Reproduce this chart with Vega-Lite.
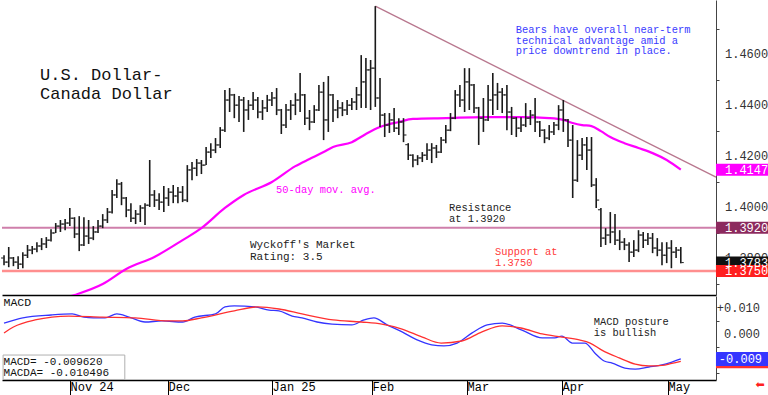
{
"$schema": "https://vega.github.io/schema/vega-lite/v6.json",
"autosize": {"type": "pad"},
"padding": 0,
"background": "white",
"spacing": 1,
"resolve": {"scale": {"x": "independent", "y": "independent", "color": "independent"}},
"config": {"view": {"stroke": null}, "text": {"font": "Liberation Mono"}, "tick": {"opacity": 1}, "axis": {"labelFont": "Liberation Mono", "grid": false, "title": null}},
"datasets": {
"bars": [
{"i":0,"o":1.3801,"h":1.3812,"l":1.3773,"c":1.3785},
{"i":1,"o":1.3785,"h":1.3844,"l":1.3765,"c":1.3801},
{"i":2,"o":1.3801,"h":1.3805,"l":1.3769,"c":1.3785},
{"i":3,"o":1.3785,"h":1.3808,"l":1.3758,"c":1.3777},
{"i":4,"o":1.3777,"h":1.3824,"l":1.3761,"c":1.3812},
{"i":5,"o":1.3812,"h":1.3852,"l":1.3801,"c":1.3832},
{"i":6,"o":1.3832,"h":1.3848,"l":1.3816,"c":1.3836},
{"i":7,"o":1.3836,"h":1.3863,"l":1.3824,"c":1.3848},
{"i":8,"o":1.3848,"h":1.3879,"l":1.3832,"c":1.3856},
{"i":9,"o":1.3856,"h":1.3883,"l":1.3840,"c":1.3871},
{"i":10,"o":1.3871,"h":1.3914,"l":1.3866,"c":1.3899},
{"i":11,"o":1.3899,"h":1.3938,"l":1.3899,"c":1.3926},
{"i":12,"o":1.3926,"h":1.3950,"l":1.3903,"c":1.3934},
{"i":13,"o":1.3934,"h":1.3954,"l":1.3910,"c":1.3938},
{"i":14,"o":1.3938,"h":1.3997,"l":1.3926,"c":1.3957},
{"i":15,"o":1.3957,"h":1.3961,"l":1.3879,"c":1.3895},
{"i":16,"o":1.3895,"h":1.3965,"l":1.3828,"c":1.3852},
{"i":17,"o":1.3852,"h":1.3961,"l":1.3848,"c":1.3887},
{"i":18,"o":1.3887,"h":1.3950,"l":1.3856,"c":1.3879},
{"i":19,"o":1.3879,"h":1.3926,"l":1.3871,"c":1.3903},
{"i":20,"o":1.3903,"h":1.3950,"l":1.3899,"c":1.3926},
{"i":21,"o":1.3926,"h":1.3973,"l":1.3918,"c":1.3950},
{"i":22,"o":1.3950,"h":1.3997,"l":1.3938,"c":1.3981},
{"i":23,"o":1.3981,"h":1.4067,"l":1.3975,"c":1.4048},
{"i":24,"o":1.4048,"h":1.4110,"l":1.4036,"c":1.4091},
{"i":25,"o":1.4091,"h":1.4099,"l":1.4008,"c":1.4036},
{"i":26,"o":1.4036,"h":1.4040,"l":1.3961,"c":1.3989},
{"i":27,"o":1.3989,"h":1.4016,"l":1.3942,"c":1.3957},
{"i":28,"o":1.3957,"h":1.3989,"l":1.3934,"c":1.3973},
{"i":29,"o":1.3973,"h":1.4008,"l":1.3942,"c":1.3997},
{"i":30,"o":1.3997,"h":1.4016,"l":1.3930,"c":1.4008},
{"i":31,"o":1.4008,"h":1.4185,"l":1.4001,"c":1.4048},
{"i":32,"o":1.4048,"h":1.4067,"l":1.4001,"c":1.4028},
{"i":33,"o":1.4028,"h":1.4055,"l":1.3989,"c":1.4020},
{"i":34,"o":1.4020,"h":1.4083,"l":1.3981,"c":1.4036},
{"i":35,"o":1.4036,"h":1.4075,"l":1.4005,"c":1.4059},
{"i":36,"o":1.4059,"h":1.4087,"l":1.4016,"c":1.4044},
{"i":37,"o":1.4044,"h":1.4079,"l":1.4016,"c":1.4059},
{"i":38,"o":1.4059,"h":1.4083,"l":1.4020,"c":1.4028},
{"i":39,"o":1.4028,"h":1.4165,"l":1.4020,"c":1.4146},
{"i":40,"o":1.4146,"h":1.4177,"l":1.4106,"c":1.4153},
{"i":41,"o":1.4153,"h":1.4189,"l":1.4122,"c":1.4173},
{"i":42,"o":1.4173,"h":1.4185,"l":1.4130,"c":1.4165},
{"i":43,"o":1.4165,"h":1.4236,"l":1.4165,"c":1.4216},
{"i":44,"o":1.4216,"h":1.4251,"l":1.4193,"c":1.4224},
{"i":45,"o":1.4224,"h":1.4271,"l":1.4212,"c":1.4244},
{"i":46,"o":1.4244,"h":1.4314,"l":1.4232,"c":1.4302},
{"i":47,"o":1.4302,"h":1.4459,"l":1.4295,"c":1.4420},
{"i":48,"o":1.4420,"h":1.4467,"l":1.4373,"c":1.4440},
{"i":49,"o":1.4440,"h":1.4444,"l":1.4349,"c":1.4400},
{"i":50,"o":1.4400,"h":1.4436,"l":1.4334,"c":1.4420},
{"i":51,"o":1.4420,"h":1.4432,"l":1.4295,"c":1.4381},
{"i":52,"o":1.4381,"h":1.4420,"l":1.4342,"c":1.4400},
{"i":53,"o":1.4400,"h":1.4451,"l":1.4381,"c":1.4420},
{"i":54,"o":1.4420,"h":1.4432,"l":1.4349,"c":1.4373},
{"i":55,"o":1.4373,"h":1.4420,"l":1.4342,"c":1.4389},
{"i":56,"o":1.4389,"h":1.4440,"l":1.4373,"c":1.4420},
{"i":57,"o":1.4420,"h":1.4451,"l":1.4397,"c":1.4428},
{"i":58,"o":1.4428,"h":1.4467,"l":1.4361,"c":1.4381},
{"i":59,"o":1.4381,"h":1.4385,"l":1.4287,"c":1.4322},
{"i":60,"o":1.4322,"h":1.4404,"l":1.4310,"c":1.4381},
{"i":61,"o":1.4381,"h":1.4420,"l":1.4342,"c":1.4400},
{"i":62,"o":1.4400,"h":1.4447,"l":1.4361,"c":1.4420},
{"i":63,"o":1.4420,"h":1.4526,"l":1.4373,"c":1.4440},
{"i":64,"o":1.4440,"h":1.4444,"l":1.4322,"c":1.4349},
{"i":65,"o":1.4349,"h":1.4381,"l":1.4302,"c":1.4334},
{"i":66,"o":1.4334,"h":1.4400,"l":1.4330,"c":1.4381},
{"i":67,"o":1.4381,"h":1.4479,"l":1.4377,"c":1.4451},
{"i":68,"o":1.4451,"h":1.4491,"l":1.4263,"c":1.4342},
{"i":69,"o":1.4342,"h":1.4514,"l":1.4295,"c":1.4440},
{"i":70,"o":1.4440,"h":1.4444,"l":1.4334,"c":1.4381},
{"i":71,"o":1.4381,"h":1.4420,"l":1.4349,"c":1.4389},
{"i":72,"o":1.4389,"h":1.4412,"l":1.4357,"c":1.4381},
{"i":73,"o":1.4381,"h":1.4420,"l":1.4361,"c":1.4400},
{"i":74,"o":1.4400,"h":1.4428,"l":1.4381,"c":1.4412},
{"i":75,"o":1.4412,"h":1.4471,"l":1.4381,"c":1.4440},
{"i":76,"o":1.4440,"h":1.4596,"l":1.4389,"c":1.4491},
{"i":77,"o":1.4491,"h":1.4585,"l":1.4389,"c":1.4538},
{"i":78,"o":1.4538,"h":1.4577,"l":1.4381,"c":1.4545},
{"i":79,"o":1.4545,"h":1.4788,"l":1.4393,"c":1.4428},
{"i":80,"o":1.4428,"h":1.4506,"l":1.4314,"c":1.4361},
{"i":81,"o":1.4361,"h":1.4369,"l":1.4275,"c":1.4322},
{"i":82,"o":1.4322,"h":1.4369,"l":1.4291,"c":1.4342},
{"i":83,"o":1.4342,"h":1.4389,"l":1.4295,"c":1.4310},
{"i":84,"o":1.4310,"h":1.4349,"l":1.4283,"c":1.4334},
{"i":85,"o":1.4334,"h":1.4349,"l":1.4255,"c":1.4283},
{"i":86,"o":1.4245,"h":1.4251,"l":1.4185,"c":1.4204},
{"i":87,"o":1.4204,"h":1.4208,"l":1.4157,"c":1.4185},
{"i":88,"o":1.4185,"h":1.4204,"l":1.4165,"c":1.4193},
{"i":89,"o":1.4193,"h":1.4216,"l":1.4177,"c":1.4204},
{"i":90,"o":1.4204,"h":1.4251,"l":1.4185,"c":1.4224},
{"i":91,"o":1.4224,"h":1.4251,"l":1.4173,"c":1.4232},
{"i":92,"o":1.4232,"h":1.4244,"l":1.4193,"c":1.4216},
{"i":93,"o":1.4216,"h":1.4275,"l":1.4212,"c":1.4263},
{"i":94,"o":1.4263,"h":1.4322,"l":1.4251,"c":1.4302},
{"i":95,"o":1.4302,"h":1.4369,"l":1.4298,"c":1.4349},
{"i":96,"o":1.4349,"h":1.4459,"l":1.4345,"c":1.4440},
{"i":97,"o":1.4440,"h":1.4479,"l":1.4393,"c":1.4420},
{"i":98,"o":1.4420,"h":1.4545,"l":1.4373,"c":1.4491},
{"i":99,"o":1.4491,"h":1.4545,"l":1.4381,"c":1.4479},
{"i":100,"o":1.4479,"h":1.4483,"l":1.4369,"c":1.4389},
{"i":101,"o":1.4389,"h":1.4393,"l":1.4244,"c":1.4349},
{"i":102,"o":1.4349,"h":1.4428,"l":1.4295,"c":1.4342},
{"i":103,"o":1.4342,"h":1.4479,"l":1.4338,"c":1.4420},
{"i":104,"o":1.4420,"h":1.4526,"l":1.4361,"c":1.4440},
{"i":105,"o":1.4440,"h":1.4487,"l":1.4381,"c":1.4451},
{"i":106,"o":1.4451,"h":1.4467,"l":1.4369,"c":1.4440},
{"i":107,"o":1.4440,"h":1.4479,"l":1.4302,"c":1.4373},
{"i":108,"o":1.4373,"h":1.4393,"l":1.4283,"c":1.4349},
{"i":109,"o":1.4349,"h":1.4353,"l":1.4275,"c":1.4310},
{"i":110,"o":1.4310,"h":1.4353,"l":1.4295,"c":1.4322},
{"i":111,"o":1.4322,"h":1.4408,"l":1.4314,"c":1.4349},
{"i":112,"o":1.4349,"h":1.4381,"l":1.4322,"c":1.4361},
{"i":113,"o":1.4361,"h":1.4428,"l":1.4295,"c":1.4334},
{"i":114,"o":1.4334,"h":1.4338,"l":1.4275,"c":1.4302},
{"i":115,"o":1.4302,"h":1.4306,"l":1.4251,"c":1.4271},
{"i":116,"o":1.4271,"h":1.4322,"l":1.4263,"c":1.4295},
{"i":117,"o":1.4295,"h":1.4334,"l":1.4283,"c":1.4322},
{"i":118,"o":1.4322,"h":1.4400,"l":1.4302,"c":1.4381},
{"i":119,"o":1.4381,"h":1.4420,"l":1.4295,"c":1.4342},
{"i":120,"o":1.4342,"h":1.4346,"l":1.4236,"c":1.4263},
{"i":121,"o":1.4263,"h":1.4322,"l":1.4036,"c":1.4106},
{"i":122,"o":1.4106,"h":1.4263,"l":1.4099,"c":1.4204},
{"i":123,"o":1.4204,"h":1.4271,"l":1.4185,"c":1.4244},
{"i":124,"o":1.4244,"h":1.4275,"l":1.4146,"c":1.4224},
{"i":125,"o":1.4224,"h":1.4275,"l":1.4079,"c":1.4087},
{"i":126,"o":1.4087,"h":1.4114,"l":1.3997,"c":1.4028},
{"i":127,"o":1.3990,"h":1.3997,"l":1.3844,"c":1.3879},
{"i":128,"o":1.3879,"h":1.3918,"l":1.3852,"c":1.3891},
{"i":129,"o":1.3891,"h":1.3981,"l":1.3859,"c":1.3903},
{"i":130,"o":1.3903,"h":1.3973,"l":1.3852,"c":1.3871},
{"i":131,"o":1.3871,"h":1.3910,"l":1.3832,"c":1.3863},
{"i":132,"o":1.3863,"h":1.3879,"l":1.3832,"c":1.3852},
{"i":133,"o":1.3852,"h":1.3863,"l":1.3785,"c":1.3824},
{"i":134,"o":1.3824,"h":1.3871,"l":1.3805,"c":1.3832},
{"i":135,"o":1.3832,"h":1.3910,"l":1.3824,"c":1.3891},
{"i":136,"o":1.3891,"h":1.3903,"l":1.3840,"c":1.3871},
{"i":137,"o":1.3871,"h":1.3899,"l":1.3852,"c":1.3879},
{"i":138,"o":1.3879,"h":1.3899,"l":1.3820,"c":1.3840},
{"i":139,"o":1.3840,"h":1.3879,"l":1.3808,"c":1.3832},
{"i":140,"o":1.3832,"h":1.3863,"l":1.3773,"c":1.3812},
{"i":141,"o":1.3812,"h":1.3863,"l":1.3781,"c":1.3840},
{"i":142,"o":1.3840,"h":1.3871,"l":1.3761,"c":1.3824},
{"i":143,"o":1.3824,"h":1.3844,"l":1.3801,"c":1.3832},
{"i":144,"o":1.3832,"h":1.3844,"l":1.3780,"c":1.3783}
],
"ma": [
{"i":14,"v":1.3650},{"i":15,"v":1.3656},{"i":21,"v":1.3699},{"i":26,"v":1.3758},{"i":32,"v":1.3805},{"i":38,"v":1.3871},{"i":42,"v":1.3918},{"i":47,"v":1.3997},{"i":51,"v":1.4048},{"i":57,"v":1.4099},{"i":62,"v":1.4161},{"i":65,"v":1.4189},{"i":68,"v":1.4216},{"i":70,"v":1.4236},{"i":74,"v":1.4255},{"i":77,"v":1.4287},{"i":80,"v":1.4314},{"i":84,"v":1.4334},{"i":87,"v":1.4346},{"i":94,"v":1.4349},{"i":102,"v":1.4353},{"i":110,"v":1.4353},{"i":116,"v":1.4349},{"i":119,"v":1.4342},{"i":121,"v":1.4330},{"i":123,"v":1.4322},{"i":125,"v":1.4318},{"i":127,"v":1.4298},{"i":129,"v":1.4275},{"i":132,"v":1.4251},{"i":135,"v":1.4232},{"i":138,"v":1.4212},{"i":141,"v":1.4185},{"i":144,"v":1.4147}
],
"macd": [
{"k":"MACD","i":0,"v":0.0042},{"k":"MACD","i":4,"v":0.0062},{"k":"MACD","i":10,"v":0.0073},{"k":"MACD","i":14.5,"v":0.0077},{"k":"MACD","i":17,"v":0.0065},{"k":"MACD","i":19,"v":0.0062},{"k":"MACD","i":21.5,"v":0.0062},{"k":"MACD","i":24,"v":0.0077},{"k":"MACD","i":26.6,"v":0.0065},{"k":"MACD","i":30,"v":0.0046},{"k":"MACD","i":33.6,"v":0.0050},{"k":"MACD","i":38,"v":0.0046},{"k":"MACD","i":40.6,"v":0.0065},{"k":"MACD","i":45,"v":0.0077},{"k":"MACD","i":47,"v":0.0104},{"k":"MACD","i":49,"v":0.0108},{"k":"MACD","i":53.4,"v":0.0104},{"k":"MACD","i":56.4,"v":0.0092},{"k":"MACD","i":58.5,"v":0.0089},{"k":"MACD","i":61.3,"v":0.0069},{"k":"MACD","i":63.4,"v":0.0062},{"k":"MACD","i":66.6,"v":0.0046},{"k":"MACD","i":69.8,"v":0.0038},{"k":"MACD","i":74,"v":0.0035},{"k":"MACD","i":76.6,"v":0.0054},{"k":"MACD","i":78.7,"v":0.0062},{"k":"MACD","i":81.5,"v":0.0035},{"k":"MACD","i":84.7,"v":0.0008},{"k":"MACD","i":87.9,"v":-0.0023},{"k":"MACD","i":91,"v":-0.0042},{"k":"MACD","i":93.6,"v":-0.0046},{"k":"MACD","i":96.4,"v":-0.0035},{"k":"MACD","i":99.6,"v":0.0004},{"k":"MACD","i":102.8,"v":0.0035},{"k":"MACD","i":106,"v":0.0042},{"k":"MACD","i":110.2,"v":0.0015},{"k":"MACD","i":114.5,"v":-0.0015},{"k":"MACD","i":117.2,"v":-0.0015},{"k":"MACD","i":118.7,"v":-0.0008},{"k":"MACD","i":120.9,"v":-0.0035},{"k":"MACD","i":123.6,"v":-0.0035},{"k":"MACD","i":125.7,"v":-0.0073},{"k":"MACD","i":127.7,"v":-0.0104},{"k":"MACD","i":129.4,"v":-0.0112},{"k":"MACD","i":132.1,"v":-0.0131},{"k":"MACD","i":134.3,"v":-0.0135},{"k":"MACD","i":137.2,"v":-0.0127},{"k":"MACD","i":140,"v":-0.0119},{"k":"MACD","i":142.1,"v":-0.0108},{"k":"MACD","i":144,"v":-0.0096},
{"k":"MACDA","i":0,"v":0.0004},{"k":"MACDA","i":2,"v":0.0027},{"k":"MACDA","i":6.6,"v":0.0054},{"k":"MACDA","i":13.8,"v":0.0069},{"k":"MACDA","i":20.9,"v":0.0065},{"k":"MACDA","i":27.9,"v":0.0062},{"k":"MACDA","i":35,"v":0.0050},{"k":"MACDA","i":38,"v":0.0050},{"k":"MACDA","i":42,"v":0.0062},{"k":"MACDA","i":49,"v":0.0089},{"k":"MACDA","i":54,"v":0.0104},{"k":"MACDA","i":58.5,"v":0.0096},{"k":"MACDA","i":63.4,"v":0.0077},{"k":"MACDA","i":70,"v":0.0054},{"k":"MACDA","i":76,"v":0.0046},{"k":"MACDA","i":80.4,"v":0.0038},{"k":"MACDA","i":84.7,"v":0.0019},{"k":"MACDA","i":89,"v":-0.0012},{"k":"MACDA","i":93,"v":-0.0035},{"k":"MACDA","i":97.4,"v":-0.0027},{"k":"MACDA","i":101.7,"v":0.0008},{"k":"MACDA","i":106,"v":0.0031},{"k":"MACDA","i":110,"v":0.0023},{"k":"MACDA","i":114.5,"v":0.0000},{"k":"MACDA","i":118.7,"v":-0.0012},{"k":"MACDA","i":122.4,"v":-0.0023},{"k":"MACDA","i":124.7,"v":-0.0035},{"k":"MACDA","i":127.2,"v":-0.0062},{"k":"MACDA","i":130.9,"v":-0.0092},{"k":"MACDA","i":134.3,"v":-0.0116},{"k":"MACDA","i":137.2,"v":-0.0123},{"k":"MACDA","i":140,"v":-0.0121},{"k":"MACDA","i":142.1,"v":-0.0113},{"k":"MACDA","i":144,"v":-0.0105}
]
},
"vconcat": [
{
"width": 714, "height": 295,
"layer": [
{"data": {"values": [{"p": 1.392}]}, "mark": {"type": "rule", "color": "#cf7fab", "strokeWidth": 2},
 "encoding": {"y": {"field": "p", "type": "quantitative", "scale": {"domain": [1.3656, 1.4812], "nice": false, "zero": false},
  "axis": {"orient": "right", "values": [1.37,1.38,1.39,1.4,1.41,1.42,1.43,1.44,1.45,1.46,1.47,1.48], "labels": false,
   "domainColor": "#444", "tickColor": "#444", "tickSize": 3}}}},
{"data": {"values": [{"p": 1.375}]}, "mark": {"type": "rule", "color": "#ff8f8f", "strokeWidth": 2.5},
 "encoding": {"y": {"field": "p", "type": "quantitative"}}},
{"data": {"values": [{"i": 79, "v": 1.4788}, {"i": 151.49, "v": 1.4118}]}, "mark": {"type": "line", "color": "#b8778e", "strokeWidth": 1.3},
 "encoding": {"x": {"field": "i", "type": "quantitative", "scale": {"domain": [-0.43, 151.49], "nice": false, "zero": false}}, "y": {"field": "v", "type": "quantitative"}}},
{"data": {"name": "ma"}, "mark": {"type": "line", "color": "#ff00ff", "strokeWidth": 2.2, "interpolate": "monotone", "clip": true},
 "encoding": {"x": {"field": "i", "type": "quantitative"}, "y": {"field": "v", "type": "quantitative"}}},
{"data": {"name": "bars"}, "mark": {"type": "rule", "color": "#1a1a1a", "strokeWidth": 1.6},
 "encoding": {"x": {"field": "i", "type": "quantitative", "axis": {"labels": false, "ticks": false, "domainColor": "#000", "domainWidth": 1.5}}, "y": {"field": "l", "type": "quantitative"}, "y2": {"field": "h"}}},
{"data": {"name": "bars"}, "mark": {"type": "tick", "orient": "horizontal", "color": "#1a1a1a", "size": 2.5, "thickness": 1, "xOffset": -1.7},
 "encoding": {"x": {"field": "i", "type": "quantitative"}, "y": {"field": "o", "type": "quantitative"}}},
{"data": {"name": "bars"}, "mark": {"type": "tick", "orient": "horizontal", "color": "#1a1a1a", "size": 2.5, "thickness": 1, "xOffset": 1.7},
 "encoding": {"x": {"field": "i", "type": "quantitative"}, "y": {"field": "c", "type": "quantitative"}}},
{"data": {"values": [{"t": "U.S. Dollar-\nCanada Dollar"}]}, "mark": {"type": "text", "align": "left", "baseline": "top", "fontSize": 17, "lineHeight": 19, "lineBreak": "\n", "color": "#111"},
 "encoding": {"x": {"datum": 7.66, "type": "quantitative"}, "y": {"datum": 1.4549, "type": "quantitative"}, "text": {"field": "t"}}},
{"data": {"values": [{"t": "Bears have overall near-term\ntechnical advantage amid a\nprice downtrend in place."}]}, "mark": {"type": "text", "align": "left", "baseline": "top", "fontSize": 10.4, "lineHeight": 10.7, "lineBreak": "\n", "color": "#3a3aff"},
 "encoding": {"x": {"datum": 108.9, "type": "quantitative"}, "y": {"datum": 1.4714, "type": "quantitative"}, "text": {"field": "t"}}},
{"data": {"values": [{"t": "50-day mov. avg."}]}, "mark": {"type": "text", "align": "left", "baseline": "middle", "fontSize": 10.4, "color": "#ff00ff"},
 "encoding": {"x": {"datum": 57.87, "type": "quantitative"}, "y": {"datum": 1.4067, "type": "quantitative"}, "text": {"field": "t"}}},
{"data": {"values": [{"t": "Resistance\nat 1.3920"}]}, "mark": {"type": "text", "align": "left", "baseline": "top", "fontSize": 10.4, "lineHeight": 11, "lineBreak": "\n", "color": "#222"},
 "encoding": {"x": {"datum": 94.68, "type": "quantitative"}, "y": {"datum": 1.4016, "type": "quantitative"}, "text": {"field": "t"}}},
{"data": {"values": [{"t": "Wyckoff's Market\nRating: 3.5"}]}, "mark": {"type": "text", "align": "left", "baseline": "top", "fontSize": 11, "lineHeight": 12, "lineBreak": "\n", "color": "#222"},
 "encoding": {"x": {"datum": 52.34, "type": "quantitative"}, "y": {"datum": 1.3875, "type": "quantitative"}, "text": {"field": "t"}}},
{"data": {"values": [{"t": "Support at\n1.3750"}]}, "mark": {"type": "text", "align": "left", "baseline": "top", "fontSize": 10.4, "lineHeight": 11, "lineBreak": "\n", "color": "#ff3a3a"},
 "encoding": {"x": {"datum": 104.47, "type": "quantitative"}, "y": {"datum": 1.3844, "type": "quantitative"}, "text": {"field": "t"}}},
{"data": {"values": [{"v": 1.38}, {"v": 1.40}, {"v": 1.42}, {"v": 1.44}, {"v": 1.46}]},
 "mark": {"type": "text", "align": "left", "baseline": "middle", "fontSize": 12, "color": "#333"},
 "encoding": {"x": {"datum": 153.4, "type": "quantitative"}, "y": {"field": "v", "type": "quantitative"}, "text": {"field": "v", "type": "quantitative", "format": ".4f"}}},
{"data": {"values": [{"v": 1.4147, "s": "MA"}, {"v": 1.392, "s": "Resistance"}, {"v": 1.3783, "s": "Last"}, {"v": 1.375, "s": "Support"}]},
 "mark": {"type": "tick", "orient": "horizontal", "size": 54, "thickness": 12, "opacity": 1},
 "encoding": {"x": {"datum": 157.23, "type": "quantitative"}, "y": {"field": "v", "type": "quantitative"},
  "color": {"field": "s", "type": "nominal", "scale": {"domain": ["MA", "Resistance", "Last", "Support"], "range": ["#ff00ff", "#8c2a5e", "#111111", "#ff1f1f"]}, "legend": null}}},
{"data": {"values": [{"v": 1.4147}, {"v": 1.392}, {"v": 1.3783}, {"v": 1.375}]},
 "mark": {"type": "text", "align": "left", "baseline": "middle", "fontSize": 12, "color": "white"},
 "encoding": {"x": {"datum": 153.4, "type": "quantitative"}, "y": {"field": "v", "type": "quantitative"}, "text": {"field": "v", "type": "quantitative", "format": ".4f"}}}
]
},
{
"width": 714, "height": 84,
"layer": [
{"data": {"name": "macd"}, "mark": {"type": "line", "strokeWidth": 1.3, "interpolate": "monotone"},
 "encoding": {"x": {"field": "i", "type": "quantitative", "scale": {"domain": [-0.43, 151.49], "nice": false, "zero": false},
   "axis": {"values": [14.04, 34.89, 57.02, 78.3, 98.51, 118.72, 141.28],
    "labelExpr": "datum.value < 20 ? 'Nov 24' : datum.value < 40 ? 'Dec' : datum.value < 60 ? 'Jan 25' : datum.value < 85 ? 'Feb' : datum.value < 105 ? 'Mar' : datum.value < 125 ? 'Apr' : 'May'",
    "domainColor": "#000", "domainWidth": 1.5, "tickColor": "#000", "tickSize": 15, "labelAlign": "left", "labelBaseline": "top", "labelPadding": -14, "labelDx": 3, "labelFontSize": 12, "labelColor": "#000", "labelFlush": false, "labelOverlap": false, "labelBound": false}},
  "y": {"field": "v", "type": "quantitative", "scale": {"domain": [-0.0177, 0.0146], "nice": false, "zero": false},
   "axis": {"orient": "right", "values": [-0.015, -0.01, -0.005, 0, 0.005, 0.01], "labels": false,
    "domainColor": "#444", "tickColor": "#444", "tickSize": 3}},
  "color": {"field": "k", "type": "nominal", "scale": {"domain": ["MACD", "MACDA"], "range": ["#3535ff", "#ff3030"]}, "legend": null},
  "order": {"field": "k", "sort": "descending"}}},
{"data": {"values": [{"t": "box"}]}, "mark": {"type": "rect", "fill": "white", "fillOpacity": 0, "stroke": "#b0b0b0", "strokeWidth": 1},
 "encoding": {"x": {"datum": -0.2, "type": "quantitative"}, "x2": {"datum": 25.7}, "y": {"datum": -0.0081, "type": "quantitative"}, "y2": {"datum": -0.0175}}},
{"data": {"values": [{"t": "MACD"}]}, "mark": {"type": "text", "align": "left", "baseline": "middle", "fontSize": 11.5, "color": "#111"},
 "encoding": {"x": {"datum": -0.1, "type": "quantitative"}, "y": {"datum": 0.0119, "type": "quantitative"}, "text": {"field": "t"}}},
{"data": {"values": [{"t": "MACD posture\nis bullish"}]}, "mark": {"type": "text", "align": "left", "baseline": "top", "fontSize": 10.4, "lineHeight": 10.5, "lineBreak": "\n", "color": "#222"},
 "encoding": {"x": {"datum": 125.5, "type": "quantitative"}, "y": {"datum": 0.0065, "type": "quantitative"}, "text": {"field": "t"}}},
{"data": {"values": [{"t": "MACD=   -0.009620\nMACDA=  -0.010496"}]}, "mark": {"type": "text", "align": "left", "baseline": "top", "fontSize": 11, "lineHeight": 11, "lineBreak": "\n", "color": "#111"},
 "encoding": {"x": {"datum": -0.1, "type": "quantitative"}, "y": {"datum": -0.0085, "type": "quantitative"}, "text": {"field": "t"}}},
{"data": {"values": [{"v": 0.01, "t": "+0.010"}, {"v": 0, "t": "0.000"}]},
 "mark": {"type": "text", "align": "right", "baseline": "middle", "fontSize": 12, "color": "#333"},
 "encoding": {"x": {"datum": 160.85, "type": "quantitative"}, "y": {"field": "v", "type": "quantitative"}, "text": {"field": "t"}}},
{"data": {"values": [{"v": -0.010496, "s": "MACDA"}, {"v": -0.00962, "s": "MACD"}]},
 "mark": {"type": "tick", "orient": "horizontal", "size": 54, "thickness": 14, "opacity": 1},
 "encoding": {"x": {"datum": 157.23, "type": "quantitative"}, "y": {"field": "v", "type": "quantitative"},
  "color": {"field": "s", "type": "nominal", "scale": {"domain": ["MACD", "MACDA"], "range": ["#2222ff", "#ff2020"]}, "legend": null}}},
{"data": {"values": [{"v": -0.00962, "t": "-0.009"}]}, "mark": {"type": "text", "align": "left", "baseline": "middle", "fontSize": 12, "color": "white"},
 "encoding": {"x": {"datum": 152.1, "type": "quantitative"}, "y": {"field": "v", "type": "quantitative"}, "text": {"field": "t"}}},
{"data": {"values": [{"t": "⬅"}]}, "mark": {"type": "text", "align": "center", "baseline": "middle", "fontSize": 11, "font": "DejaVu Sans", "color": "#ff2020"},
 "encoding": {"x": {"datum": 160.9, "type": "quantitative"}, "y": {"datum": -0.0196, "type": "quantitative"}, "text": {"field": "t"}}}
]
}
]
}
